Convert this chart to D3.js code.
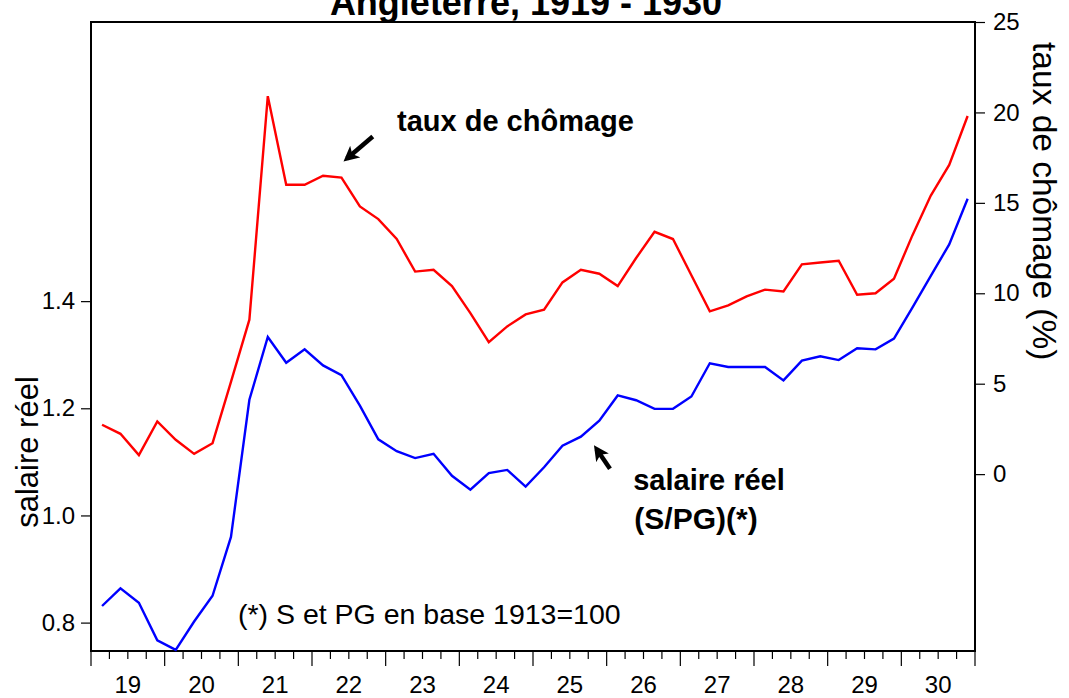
<!DOCTYPE html>
<html>
<head>
<meta charset="utf-8">
<script src="https://cdn.jsdelivr.net/npm/d3@7"></script>
<style>
  body { margin: 0; background: #fff; }
  svg { font-family: "Liberation Sans", Arial, sans-serif; }
</style>
</head>
<body>
<svg width="1069" height="698"></svg>
<script>
// Angleterre 1919-1930, quarterly data
const years = ["19", "20", "21", "22", "23", "24", "25", "26", "27", "28", "29", "30"];

// salaire réel (S/PG), left axis
const salaire = [
  0.831, 0.864, 0.837, 0.767, 0.749, 0.802, 0.850, 0.960,
  1.216, 1.333, 1.285, 1.310, 1.280, 1.262, 1.205, 1.142,
  1.120, 1.107, 1.115, 1.074, 1.048, 1.079, 1.085, 1.054,
  1.090, 1.130, 1.147, 1.177, 1.224, 1.215, 1.199, 1.199,
  1.222, 1.284, 1.277, 1.277, 1.277, 1.252, 1.289, 1.297,
  1.290, 1.312, 1.310, 1.330, 1.388, 1.447, 1.506, 1.591
];

// taux de chômage (%), right axis
const chomage = [
  2.73, 2.23, 1.05, 2.91, 1.90, 1.12, 1.71, 5.10,
  8.54, 20.9, 16.0, 16.0, 16.5, 16.4, 14.8, 14.1,
  13.0, 11.2, 11.3, 10.4, 8.90, 7.30, 8.17, 8.83,
  9.09, 10.6, 11.3, 11.08, 10.4, 11.95, 13.4, 13.0,
  11.0, 9.00, 9.33, 9.83, 10.2, 10.1, 11.6, 11.7,
  11.8, 9.92, 10.0, 10.8, 13.2, 15.4, 17.1, 19.8
];

const leftTicks = [0.8, 1.0, 1.2, 1.4];
const rightTicks = [0, 5, 10, 15, 20, 25];

const margin = {top: 22, right: 94, bottom: 47, left: 91},
    width = 1069 - margin.left - margin.right,
    height = 698 - margin.top - margin.bottom;

const svg = d3.select("svg")
  .append("g")
    .attr("transform", "translate(" + margin.left + "," + margin.top + ")");

// scales (quarter index, points drawn a bit past the middle of each quarter)
const x = d3.scaleLinear()
    .domain([0, years.length * 4])
    .range([0, width]);
const xq = i => x(i + 0.6);

const yLeft = d3.scaleLinear()
    .domain([0.747, 1.921])
    .range([height, 0]);

const yRight = d3.scaleLinear()
    .domain([-9.78, 25])
    .range([height, 0]);

// bottom axis: long ticks at years, short at quarters, labels mid-year
const qTicks = d3.range(0, years.length * 4 + 1);
svg.append("g")
    .selectAll("line")
    .data(qTicks)
    .join("line")
      .attr("x1", d => x(d))
      .attr("x2", d => x(d))
      .attr("y1", height)
      .attr("y2", d => height + (d % 4 === 0 ? 15 : 8))
      .attr("stroke", "#000")
      .attr("stroke-width", 1.2);

svg.append("g")
    .selectAll("text")
    .data(years)
    .join("text")
      .attr("x", (d, i) => x(i * 4 + 2))
      .attr("y", height + 42)
      .attr("text-anchor", "middle")
      .style("font-size", "24px")
      .text(d => d);

// left axis
const leftAxis = svg.append("g")
    .call(d3.axisLeft(yLeft).tickValues(leftTicks).tickFormat(d3.format(".1f")).tickSize(10).tickPadding(6));
leftAxis.select(".domain").remove();
leftAxis.selectAll("text").style("font-size", "24px");
leftAxis.selectAll("line").attr("stroke-width", 1.2);

// right axis
const rightAxis = svg.append("g")
    .attr("transform", "translate(" + width + ",0)")
    .call(d3.axisRight(yRight).tickValues(rightTicks).tickSize(10).tickPadding(8));
rightAxis.select(".domain").remove();
rightAxis.selectAll("text").style("font-size", "24px");
rightAxis.selectAll("line").attr("stroke-width", 1.2);

// frame
svg.append("rect")
    .attr("width", width)
    .attr("height", height)
    .attr("fill", "none")
    .attr("stroke", "#000")
    .attr("stroke-width", 2);

// lines
const lineL = d3.line().x((d, i) => xq(i)).y(d => yLeft(d));
const lineR = d3.line().x((d, i) => xq(i)).y(d => yRight(d));

svg.append("path")
    .datum(chomage)
    .attr("fill", "none")
    .attr("stroke", "#ff0000")
    .attr("stroke-width", 2.4)
    .attr("d", lineR);

svg.append("path")
    .datum(salaire)
    .attr("fill", "none")
    .attr("stroke", "#0000ff")
    .attr("stroke-width", 2.4)
    .attr("d", lineL);

// title (mostly cut off at the top, as in the original)
svg.append("text")
    .attr("x", 435)
    .attr("y", -7)
    .attr("text-anchor", "middle")
    .style("font-size", "36px")
    .style("font-weight", "bold")
    .text("Angleterre, 1919 - 1930");

// axis titles
svg.append("text")
    .attr("transform", "rotate(-90)")
    .attr("x", -430)
    .attr("y", -53)
    .attr("text-anchor", "middle")
    .style("font-size", "31px")
    .text("salaire réel");

svg.append("text")
    .attr("transform", "translate(" + (width + 58) + "," + 20 + ") rotate(90)")
    .attr("text-anchor", "start")
    .style("font-size", "33.5px")
    .text("taux de chômage (%)");

// annotations
svg.append("defs").append("marker")
    .attr("id", "head")
    .attr("viewBox", "0 0 10 10")
    .attr("refX", 7)
    .attr("refY", 5)
    .attr("markerWidth", 3.4)
    .attr("markerHeight", 3.4)
    .attr("orient", "auto")
  .append("path")
    .attr("d", "M0,0 L10,5 L0,10 L2.5,5 z")
    .attr("fill", "#000");

svg.append("line")
    .attr("x1", xq(14.7)).attr("y1", yRight(18.67))
    .attr("x2", xq(13.3)).attr("y2", yRight(17.45))
    .attr("stroke", "#000")
    .attr("stroke-width", 4.5)
    .attr("marker-end", "url(#head)");

svg.append("text")
    .attr("x", 397 - margin.left)
    .attr("y", 131 - margin.top)
    .style("font-size", "29px")
    .style("font-weight", "bold")
    .text("taux de chômage");

svg.append("line")
    .attr("x1", xq(27.58)).attr("y1", yLeft(1.087))
    .attr("x2", xq(26.85)).attr("y2", yLeft(1.124))
    .attr("stroke", "#000")
    .attr("stroke-width", 4.5)
    .attr("marker-end", "url(#head)");

svg.append("text")
    .attr("x", 709 - margin.left)
    .attr("y", 490 - margin.top)
    .attr("text-anchor", "middle")
    .style("font-size", "29px")
    .style("font-weight", "bold")
    .text("salaire réel");

svg.append("text")
    .attr("x", 696 - margin.left)
    .attr("y", 529 - margin.top)
    .attr("text-anchor", "middle")
    .style("font-size", "30px")
    .style("font-weight", "bold")
    .text("(S/PG)(*)");

svg.append("text")
    .attr("x", 238 - margin.left)
    .attr("y", 624 - margin.top)
    .style("font-size", "28.5px")
    .text("(*) S et PG en base 1913=100");
</script>
</body>
</html>
